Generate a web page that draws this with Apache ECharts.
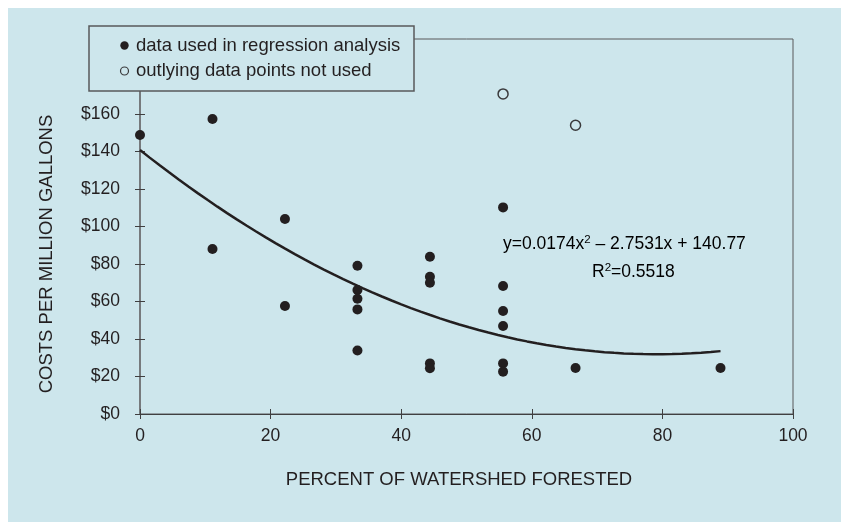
<!DOCTYPE html>
<html><head><meta charset="utf-8">
<script src="https://cdn.jsdelivr.net/npm/echarts@6/dist/echarts.min.js"></script>
<style>html,body{margin:0;padding:0;background:#fff}#c{width:841px;height:522px}</style>
</head><body><div id="c"></div>
<script>
// Data
const usedX = [0, 11.1, 11.1, 22.2, 22.2, 33.3, 33.3, 33.3, 33.3, 33.3, 44.4, 44.4, 44.4, 44.4, 44.4, 55.6, 55.6, 55.6, 55.6, 55.6, 55.6, 66.7, 88.9];
const usedY = [148.8, 157.3, 88, 104, 57.6, 79.1, 66.1, 61.5, 55.8, 33.9, 83.9, 73.2, 70.0, 27.0, 24.4, 110.2, 68.3, 54.9, 46.9, 27.0, 22.6, 24.5, 24.5];
const outX = [55.6, 66.7];
const outY = [170.7, 154];
const trendCoef = [0.0174, -2.7531, 140.77]; // y = a x^2 + b x + c (stated on chart)
const trendRange = [0, 88.9];
const xTicks = [0, 20, 40, 60, 80, 100];
const yTicks = [0, 20, 40, 60, 80, 100, 120, 140, 160];
const legendLabels = ['data used in regression analysis', 'outlying data points not used'];
const xTitle = 'PERCENT OF WATERSHED FORESTED';
const yTitle = 'COSTS PER MILLION GALLONS';

const BG = '#cde6ec';
const INK = '#231f20';
const FONT = '"Liberation Sans", Arial, sans-serif';

const used = usedX.map((x, i) => [x, usedY[i]]);
const outl = outX.map((x, i) => [x, outY[i]]);
const trend = [];
for (let k = 0; k <= 60; k++) {
  const x = trendRange[0] + (trendRange[1] - trendRange[0]) * k / 60;
  trend.push([x, trendCoef[0] * x * x + trendCoef[1] * x + trendCoef[2]]);
}

const chart = echarts.init(document.getElementById('c'), null, {renderer: 'canvas'});
const axisCommon = {type: 'value', splitLine: {show: false}};
const rich = {
  n: {fontSize: 17.5, fontFamily: FONT, color: INK},
  s: {fontSize: 11.5, fontFamily: FONT, color: INK, verticalAlign: 'top', padding: [0, 0, 9, 0]}
};
chart.setOption({
  backgroundColor: BG,
  animation: false,
  grid: {left: 140, right: 48, top: 39, bottom: 108, show: true, borderColor: '#58595b', borderWidth: 1, backgroundColor: 'transparent'},
  xAxis: [
    Object.assign({}, axisCommon, {
      min: 0, max: 100, interval: 20,
      axisLine: {lineStyle: {color: '#404041', width: 1.2}},
      axisTick: {show: false},
      axisLabel: {color: INK, fontSize: 17.5, fontFamily: FONT, margin: 13,
        formatter: v => xTicks.includes(v) ? String(v) : ''}
    }),
    Object.assign({}, axisCommon, {
      position: 'bottom', offset: -5, min: 0, max: 100, interval: 20,
      axisLine: {show: false},
      axisTick: {show: true, inside: false, length: 10, lineStyle: {color: '#404041'}},
      axisLabel: {show: false}
    })
  ],
  yAxis: [
    Object.assign({}, axisCommon, {
      min: 0, max: 200, interval: 20,
      axisLine: {show: true, lineStyle: {color: '#6d6e71', width: 1.5}},
      axisTick: {show: false},
      axisLabel: {color: INK, fontSize: 17.5, fontFamily: FONT, margin: 20,
        formatter: v => yTicks.includes(v) ? '$' + v : ''}
    }),
    Object.assign({}, axisCommon, {
      position: 'left', offset: -5, min: 0, max: 200, interval: 20,
      axisLine: {show: false},
      axisTick: {show: true, inside: false, length: 10, lineStyle: {color: '#404041'}},
      axisLabel: {show: false}
    })
  ],
  series: [
    {type: 'line', data: trend, showSymbol: false, symbol: 'none', smooth: false,
      lineStyle: {color: INK, width: 2.5}, z: 3},
    {type: 'scatter', data: used, symbol: 'circle', symbolSize: 10,
      itemStyle: {color: INK, opacity: 1}, z: 4},
    {type: 'scatter', data: outl, symbol: 'circle', symbolSize: 10,
      itemStyle: {color: BG, borderColor: '#3a3a3c', borderWidth: 1.5, opacity: 1}, z: 4}
  ],
  graphic: [
    {type: 'rect', shape: {x: 0, y: 0, width: 8, height: 522}, style: {fill: '#fff'}, z: 100, silent: true},
    {type: 'rect', shape: {x: 0, y: 0, width: 841, height: 8}, style: {fill: '#fff'}, z: 100, silent: true},
    {type: 'rect', shape: {x: 89, y: 26, width: 325, height: 65}, style: {fill: BG, stroke: '#58595b', lineWidth: 1.5}, z: 100},
    {type: 'circle', shape: {cx: 124.5, cy: 45.5, r: 4.2}, style: {fill: INK}, z: 101},
    {type: 'circle', shape: {cx: 124.5, cy: 71, r: 4}, style: {fill: 'none', stroke: '#3a3a3c', lineWidth: 1.2}, z: 101},
    {type: 'text', x: 136, y: 45.5, style: {text: legendLabels[0], fill: INK, font: '18.5px ' + FONT, textVerticalAlign: 'middle'}, z: 101},
    {type: 'text', x: 136, y: 71, style: {text: legendLabels[1], fill: INK, font: '18.5px ' + FONT, textVerticalAlign: 'middle'}, z: 101},
    {type: 'text', x: 503, y: 244, z: 101, style: {rich: rich,
      text: '{n|y=0.0174x}{s|2}{n| – 2.7531x + 140.77}', textVerticalAlign: 'middle'}},
    {type: 'text', x: 592, y: 272, z: 101, style: {rich: rich,
      text: '{n|R}{s|2}{n|=0.5518}', textVerticalAlign: 'middle'}},
    {type: 'text', x: 459, y: 480, z: 101, style: {text: xTitle, fill: INK, font: '18.5px ' + FONT, textAlign: 'center', textVerticalAlign: 'middle'}},
    {type: 'text', x: 47, y: 254, rotation: Math.PI / 2, z: 101, style: {text: yTitle, fill: INK, font: '18.5px ' + FONT, textAlign: 'center', textVerticalAlign: 'middle'}}
  ]
});
</script></body></html>
